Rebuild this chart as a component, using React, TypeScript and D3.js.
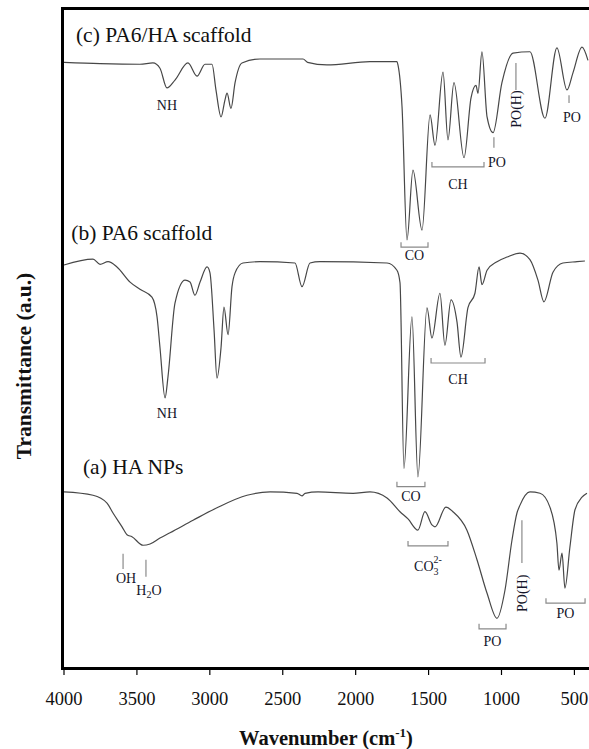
import React from 'react';
import * as d3 from 'd3';

// spectra: [wavenumber (cm-1), transmittance (a.u., curves stacked)]
const spectrumC: [number, number][] = [
  [4000, 91.9], [3753, 91.7], [3479, 91.6], [3390, 91.8], [3342, 91.0], [3294, 88.0],
  [3239, 89.2], [3150, 91.8], [3088, 89.8], [3033, 91.6], [2985, 91.6], [2958, 87.7],
  [2923, 83.6], [2896, 86.2], [2882, 87.2], [2855, 84.9], [2827, 88.8], [2780, 91.8],
  [2656, 92.4], [2361, 92.4], [2330, 91.9], [2197, 91.5], [1902, 92.0], [1717, 92.0],
  [1710, 91.5], [1682, 85.1], [1648, 64.9], [1607, 75.5], [1545, 66.4], [1490, 83.9],
  [1456, 79.3], [1401, 90.4], [1367, 80.1], [1326, 88.8], [1257, 77.4], [1209, 86.5],
  [1175, 88.4], [1161, 87.2], [1134, 93.5], [1099, 83.6], [1058, 81.2], [997, 88.8],
  [921, 93.3], [805, 93.5], [702, 83.4], [620, 94.1], [551, 87.7], [510, 90.3],
  [448, 94.2], [407, 92.2],
];

const spectrumB: [number, number][] = [
  [4000, 61.1], [3801, 62.0], [3753, 61.2], [3698, 61.6], [3637, 60.8], [3547, 58.5],
  [3479, 57.4], [3397, 56.2], [3362, 53.2], [3342, 48.6], [3307, 40.9], [3287, 44.1],
  [3239, 55.3], [3170, 58.8], [3136, 58.5], [3102, 56.5], [3067, 58.5], [3019, 60.8],
  [2999, 59.9], [2971, 51.2], [2951, 43.9], [2923, 48.6], [2903, 54.7], [2875, 50.5],
  [2848, 57.8], [2827, 59.9], [2773, 61.4], [2656, 61.6], [2416, 61.4], [2368, 57.8],
  [2313, 61.4], [2245, 61.6], [1785, 61.4], [1717, 60.3], [1696, 58.4], [1669, 30.2],
  [1614, 53.2], [1573, 28.9], [1511, 54.6], [1477, 50.0], [1422, 56.8], [1388, 48.9],
  [1346, 55.8], [1305, 52.4], [1278, 47.1], [1230, 54.6], [1182, 56.8], [1154, 60.8],
  [1134, 58.1], [1099, 60.3], [1031, 61.6], [962, 62.3], [873, 62.9], [805, 61.9],
  [750, 58.8], [709, 55.5], [647, 60.0], [579, 61.4], [482, 61.6], [428, 61.7],
];

const spectrumA: [number, number][] = [
  [4000, 26.6], [3801, 26.1], [3705, 24.9], [3664, 23.4], [3602, 21.3], [3568, 20.1],
  [3534, 19.8], [3458, 18.5], [3410, 18.7], [3342, 19.6], [3273, 20.4], [3115, 22.3],
  [2951, 24.2], [2745, 26.1], [2587, 26.6], [2402, 26.4], [2368, 26.0], [2347, 26.4],
  [2258, 26.6], [2018, 26.4], [1902, 26.6], [1785, 25.7], [1696, 23.6], [1641, 22.5],
  [1573, 20.8], [1525, 23.6], [1477, 21.6], [1456, 21.3], [1381, 24.3], [1333, 23.6],
  [1237, 20.8], [1168, 16.3], [1099, 11.2], [1031, 7.4], [976, 11.7], [928, 19.3],
  [894, 23.4], [873, 24.6], [805, 26.6], [736, 26.4], [668, 24.3], [620, 18.8],
  [606, 14.7], [585, 17.3], [565, 12.0], [531, 18.2], [496, 23.9], [448, 25.8],
  [414, 26.4],
];

const xTicks = [4000, 3500, 3000, 2500, 2000, 1500, 1000, 500];

// sample names: [label, wavenumber at text start, value at baseline]
const sampleLabels: [string, number, number][] = [
  ['(c) PA6/HA scaffold', 3918, 95.0],
  ['(b) PA6 scaffold', 3950, 64.9],
  ['(a) HA NPs', 3870, 29.3],
];

// brackets: [label, from, to, value of line, value of text baseline]
const brackets: [string, number, number, number, number][] = [
  ['CO', 1689, 1504, 63.8, 61.9],
  ['CH', 1477, 1120, 76.0, 72.6],
  ['CO', 1717, 1525, 27.4, 25.3],
  ['CH', 1483, 1113, 46.2, 43.0],
  ['CO3', 1641, 1367, 18.4, 14.6],
  ['PO', 1154, 969, 5.8, 3.2],
  ['PO', 695, 427, 9.7, 7.5],
];

// single marks: [label, wavenumber, line top, line bottom, text baseline]
const marks: [string, number, number, number, number][] = [
  ['PO', 1052, 80.5, 78.9, 76.0],
  ['PO', 537, 86.9, 85.7, 82.9],
  ['OH', 3595, 17.2, 14.9, 12.7],
  ['H2O', 3438, 16.3, 13.7, 11.0],
];

// plain labels: [label, wavenumber, baseline value]
const plainLabels: [string, number, number][] = [
  ['NH', 3294, 84.6],
  ['NH', 3294, 37.9],
];

// PO(H): [wavenumber, line top, line bottom, text centre]
const poh: [number, number, number, number][] = [
  [901, 91.8, 87.7, 84.8],
  [860, 22.3, 15.8, 11.2],
];

const W = 589;
const H = 749;
const left = 64;
const right = 589;
const top = 9;
const bottom = 667;

const serif = '"Liberation Serif", "Times New Roman", serif';
const fs = 14;

const Label = ({ text, x, y }: { text: string; x: number; y: number }) => {
  if (text === 'H2O') {
    return (
      <text x={x} y={y} textAnchor="middle" fontSize={fs}>
        H<tspan fontSize={10} dy={3}>2</tspan><tspan dy={-3}>O</tspan>
      </text>
    );
  }
  if (text === 'CO3') {
    return (
      <text x={x} y={y} textAnchor="middle" fontSize={fs}>
        CO<tspan fontSize={10} dy={4}>3</tspan>
        <tspan fontSize={10} dx={-5} dy={-12}>2-</tspan>
      </text>
    );
  }
  return (
    <text x={x} y={y} textAnchor="middle" fontSize={fs}>
      {text}
    </text>
  );
};

const App = () => {
  const x = d3.scaleLinear().domain([4000, 400]).range([left, right]);
  const y = d3.scaleLinear().domain([0, 100]).range([bottom, top]);

  const line = d3
    .line<[number, number]>()
    .x((d) => x(d[0]))
    .y((d) => y(d[1]))
    .curve(d3.curveMonotoneX);

  const grey = '#8a8a8a';

  return (
    <svg
      width={W}
      height={H}
      style={{ position: 'absolute', left: 0, top: 0, background: '#fff' }}
      fontFamily={serif}
    >
      {/* spectra */}
      {[spectrumC, spectrumB, spectrumA].map((s, i) => (
        <path key={i} d={line(s) || ''} fill="none" stroke="#474747" strokeWidth={1.2} />
      ))}

      {/* frame */}
      <line x1={left - 1.5} x2={left - 1.5} y1={top - 2} y2={bottom + 3} stroke="#000" strokeWidth={3} />
      <line x1={left - 3} x2={W} y1={top - 0.5} y2={top - 0.5} stroke="#000" strokeWidth={3} />
      <line x1={left - 3} x2={W} y1={bottom + 1.5} y2={bottom + 1.5} stroke="#000" strokeWidth={3} />

      {/* ticks */}
      {xTicks.map((t) => (
        <g key={t}>
          <line x1={x(t)} x2={x(t)} y1={bottom + 3} y2={bottom + 8} stroke="#000" strokeWidth={1.2} />
          <text x={x(t)} y={704.5} textAnchor="middle" fontSize={18.5} fill="#111">
            {t}
          </text>
        </g>
      ))}

      {/* axis titles */}
      <text x={326} y={745} textAnchor="middle" fontSize={20.5} fontWeight="bold" fill="#111">
        Wavenumber (cm<tspan fontSize={13} dy={-8}>-1</tspan><tspan dy={8}>)</tspan>
      </text>
      <text
        transform={`translate(31, ${366}) rotate(-90)`}
        textAnchor="middle"
        fontSize={21.5}
        fontWeight="bold"
        fill="#111"
      >
        Transmittance (a.u.)
      </text>

      {/* sample names */}
      {sampleLabels.map(([t, w, v]) => (
        <text key={t} x={x(w)} y={y(v)} fontSize={21.5} fill="#111">
          {t}
        </text>
      ))}

      {/* peak assignments */}
      <g fill="#15152a">
        {brackets.map(([t, w0, w1, v, tv], i) => (
          <g key={'b' + i}>
            <path
              d={`M${x(w0)},${y(v) - 5}V${y(v)}H${x(w1)}V${y(v) - 5}`}
              fill="none"
              stroke={grey}
              strokeWidth={1.2}
            />
            <Label text={t} x={(x(w0) + x(w1)) / 2} y={y(tv)} />
          </g>
        ))}
        {marks.map(([t, w, v0, v1, tv], i) => (
          <g key={'m' + i}>
            <line x1={x(w)} x2={x(w)} y1={y(v0)} y2={y(v1)} stroke={grey} strokeWidth={1.2} />
            <Label text={t} x={x(w) + 3} y={y(tv)} />
          </g>
        ))}
        {plainLabels.map(([t, w, v], i) => (
          <Label key={'p' + i} text={t} x={x(w)} y={y(v)} />
        ))}
        {poh.map(([w, v0, v1, vc], i) => (
          <g key={'h' + i}>
            <line x1={x(w)} x2={x(w)} y1={y(v0)} y2={y(v1)} stroke={grey} strokeWidth={1.2} />
            <text
              transform={`translate(${x(w) + 5}, ${y(vc)}) rotate(-90)`}
              textAnchor="middle"
              fontSize={fs}
            >
              PO(H)
            </text>
          </g>
        ))}
      </g>
    </svg>
  );
};

export default App;
